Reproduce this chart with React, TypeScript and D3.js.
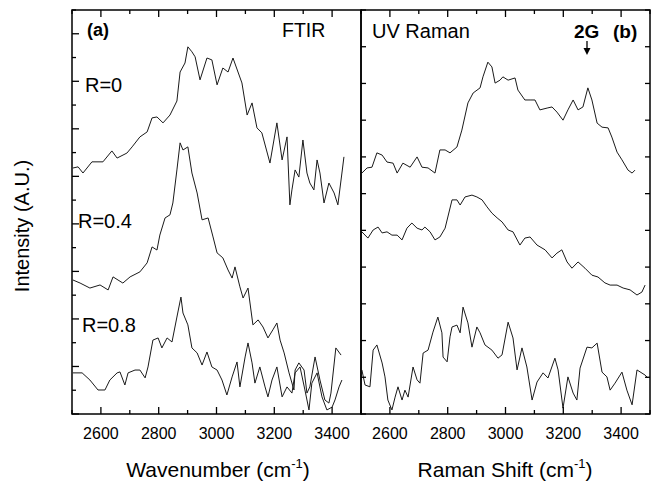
import React from "react";
import * as d3 from "d3";

// FTIR (panel a): [wavenumber, intensity]
const ftirR0: [number, number][] = [[2503,10.35],[2521,10.40],[2538,10.14],[2569,10.61],[2607,10.61],[2638,11.07],[2656,10.77],[2690,10.98],[2708,11.24],[2735,11.66],[2760,11.87],[2777,12.46],[2794,12.50],[2815,12.25],[2839,12.58],[2863,13.17],[2874,14.39],[2891,14.77],[2901,15.45],[2915,15.24],[2926,15.03],[2943,14.06],[2967,14.98],[2984,14.90],[3002,13.85],[3022,14.56],[3040,14.39],[3057,14.98],[3088,13.93],[3106,12.58],[3123,13.09],[3140,12.04],[3157,11.83],[3185,10.56],[3209,12.25],[3227,10.69],[3244,11.66],[3254,8.80],[3261,9.43],[3272,10.27],[3285,9.97],[3299,11.53],[3313,10.14],[3323,9.72],[3337,9.43],[3348,10.69],[3358,10.14],[3372,8.88],[3389,9.72],[3407,9.30],[3420,8.80],[3434,10.14],[3441,10.82]];
const ftirR04: [number, number][] = [[2503,5.64],[2528,5.51],[2562,5.30],[2597,5.43],[2625,5.22],[2642,5.77],[2676,5.51],[2701,5.77],[2735,5.98],[2760,6.36],[2777,7.03],[2794,6.90],[2804,7.53],[2822,8.25],[2839,8.38],[2849,8.88],[2863,10.27],[2874,11.41],[2884,11.11],[2901,11.24],[2915,10.14],[2933,9.30],[2950,8.17],[2971,8.25],[2988,7.45],[3002,6.78],[3022,6.57],[3040,6.06],[3054,5.72],[3064,6.19],[3081,5.35],[3092,4.88],[3109,5.30],[3126,3.75],[3144,3.96],[3161,3.66],[3178,3.20],[3195,3.54],[3209,3.83],[3220,3.11],[3234,2.57],[3251,1.73],[3268,1.01],[3272,1.85],[3285,2.15],[3303,1.85],[3313,0.88],[3323,1.14],[3341,2.40],[3358,1.43],[3375,0.59],[3389,0.46],[3396,0.88],[3413,2.78],[3431,2.48]];
const ftirR08: [number, number][] = [[2503,1.73],[2535,1.73],[2562,1.43],[2590,1.01],[2614,1.01],[2631,1.43],[2656,1.73],[2666,1.77],[2683,1.22],[2694,1.73],[2718,1.85],[2735,1.85],[2753,1.52],[2763,1.98],[2780,3.11],[2798,3.20],[2811,2.78],[2829,3.20],[2846,3.03],[2863,4.08],[2877,4.92],[2884,4.25],[2901,3.75],[2915,2.78],[2933,2.57],[2950,2.06],[2967,2.61],[2984,1.98],[3002,1.85],[3019,1.43],[3036,0.80],[3054,1.56],[3071,2.19],[3081,1.14],[3099,2.40],[3109,2.99],[3123,2.15],[3133,1.30],[3150,1.98],[3168,1.14],[3178,0.72],[3192,1.43],[3209,1.98],[3227,0.72],[3244,1.14],[3261,0.88],[3272,1.73],[3289,1.98],[3306,1.01],[3320,0.17],[3330,1.30],[3348,1.73],[3365,0.72],[3382,0.17],[3400,0.29],[3410,0.59],[3424,1.14],[3434,1.43]];

// UV Raman (panel b)
const ramanR0: [number, number][] = [[2503,6.56],[2521,6.70],[2538,6.72],[2555,7.11],[2573,7.05],[2590,6.86],[2611,6.83],[2625,6.56],[2645,6.83],[2670,6.72],[2694,7.00],[2711,6.72],[2732,6.70],[2756,6.56],[2773,7.19],[2791,7.19],[2808,7.11],[2832,7.27],[2849,7.73],[2870,8.47],[2888,8.74],[2912,8.88],[2922,9.18],[2939,9.58],[2953,9.45],[2964,9.01],[2981,9.09],[2991,9.18],[3009,9.09],[3033,9.15],[3043,8.82],[3067,8.55],[3085,8.55],[3102,8.55],[3119,8.28],[3144,8.33],[3161,8.36],[3178,8.22],[3199,8.00],[3216,8.28],[3234,8.55],[3251,8.28],[3268,8.36],[3285,8.88],[3299,8.55],[3317,7.92],[3334,7.81],[3355,7.79],[3368,7.54],[3386,7.13],[3403,6.92],[3424,6.64],[3438,6.56],[3448,6.64]];
const ramanR04: [number, number][] = [[2503,4.96],[2524,4.79],[2542,5.01],[2559,5.09],[2573,4.93],[2590,4.96],[2607,4.87],[2625,4.87],[2642,4.74],[2659,5.06],[2676,5.20],[2694,5.06],[2711,5.01],[2721,5.09],[2739,4.96],[2756,4.74],[2773,4.82],[2791,5.06],[2815,5.83],[2832,5.83],[2843,5.69],[2860,5.91],[2884,5.96],[2901,5.91],[2919,5.83],[2936,5.64],[2953,5.47],[2971,5.34],[2988,5.23],[3009,5.01],[3026,4.96],[3050,4.60],[3067,4.79],[3085,4.82],[3109,4.60],[3137,4.47],[3161,4.25],[3178,4.38],[3195,4.47],[3213,4.14],[3230,3.97],[3251,4.14],[3275,3.97],[3299,3.78],[3320,3.73],[3344,3.57],[3362,3.51],[3386,3.51],[3407,3.43],[3431,3.38],[3455,3.24],[3472,3.32],[3483,3.51]];
const ramanR08: [number, number][] = [[2503,1.20],[2514,0.79],[2531,0.74],[2542,1.74],[2555,1.88],[2573,1.39],[2583,1.01],[2593,0.38],[2607,0.11],[2618,0.46],[2628,0.74],[2642,0.38],[2652,0.65],[2663,0.46],[2680,1.28],[2694,0.93],[2704,0.84],[2715,1.66],[2732,1.74],[2749,2.23],[2766,2.64],[2780,2.21],[2784,1.55],[2798,1.42],[2808,2.10],[2815,2.37],[2832,2.42],[2843,2.21],[2853,2.91],[2870,2.48],[2884,1.82],[2901,2.37],[2912,2.21],[2929,1.88],[2953,1.74],[2974,1.52],[2988,1.61],[3009,2.50],[3026,2.07],[3040,1.20],[3057,1.80],[3074,1.28],[3092,0.38],[3109,0.87],[3130,1.12],[3147,0.98],[3171,1.52],[3182,1.20],[3199,0.16],[3216,1.01],[3234,0.57],[3247,0.38],[3258,1.25],[3282,1.82],[3299,1.80],[3317,1.93],[3334,1.14],[3351,1.01],[3362,0.65],[3379,0.84],[3403,1.14],[3420,0.65],[3438,0.25],[3455,1.20],[3483,1.06],[3493,0.98]];

const xTickLabels = [2600, 2800, 3000, 3200, 3400];

const W = 655, H = 483;
const top = 10, bottom = 414;
const aL = 72, mid = 361, bR = 650;
const FONT = "Arial, 'Liberation Sans', Helvetica, sans-serif";

function Panel({ x0, x1, yMax, series, leftTicks, rightTicks, majorEvery }: any) {
  const x = d3.scaleLinear().domain([2500, 3500]).range([x0, x1]);
  const y = d3.scaleLinear().domain([0, yMax]).range([bottom, top]);
  const line = d3.line<[number, number]>().x(d => x(d[0])).y(d => y(d[1]));
  const xt = d3.range(2500, 3501, 100);
  const yt = d3.range(0, yMax + 0.001, 1);
  return (
    <g>
      {series.map((s: [number, number][], i: number) => (
        <path key={i} d={line(s) || ""} fill="none" stroke="#1a1a1a" strokeWidth={1} />
      ))}
      {xt.map(t => {
        const len = t % 200 === 0 ? 7 : 4;
        return (
          <g key={t}>
            <line x1={x(t)} x2={x(t)} y1={bottom} y2={bottom - len} stroke="#000" strokeWidth={1.3} />
            <line x1={x(t)} x2={x(t)} y1={top} y2={top + len} stroke="#000" strokeWidth={1.3} />
          </g>
        );
      })}
      {leftTicks && yt.map(t => {
        const len = majorEvery && t % 2 === 0 ? 7 : 4;
        return <line key={"l" + t} x1={x0} x2={x0 + len} y1={y(t)} y2={y(t)} stroke="#000" strokeWidth={1.3} />;
      })}
      {rightTicks && yt.map(t => (
        <line key={"r" + t} x1={x1} x2={x1 - 5} y1={y(t)} y2={y(t)} stroke="#000" strokeWidth={1.3} />
      ))}
      {rightTicks && yt.map(t => (
        <line key={"rl" + t} x1={x0} x2={x0 + 5} y1={y(t)} y2={y(t)} stroke="#000" strokeWidth={1.3} />
      ))}
      <rect x={x0} y={top} width={x1 - x0} height={bottom - top} fill="none" stroke="#000" strokeWidth={1.5} />
      {xTickLabels.map(t => (
        <text key={t} x={x(t)} y={439} textAnchor="middle" fontSize={16} fontFamily={FONT} fill="#000">{t}</text>
      ))}
    </g>
  );
}

export default function App() {
  return (
    <svg width={W} height={H} style={{ position: "absolute", left: 0, top: 0, background: "#fff" }}>
      <rect x={0} y={0} width={W} height={H} fill="#fff" />
      <Panel x0={aL} x1={mid} yMax={17} series={[ftirR0, ftirR04, ftirR08]} leftTicks majorEvery />
      <Panel x0={mid} x1={bR} yMax={11} series={[ramanR0, ramanR04, ramanR08]} rightTicks />
      <g fontFamily={FONT} fill="#000">
        <text x={87} y={36} fontSize={18} fontWeight="bold">(a)</text>
        <text x={282} y={37} fontSize={19.5}>FTIR</text>
        <text x={85} y={92} fontSize={20}>R=0</text>
        <text x={78} y={228} fontSize={20}>R=0.4</text>
        <text x={82} y={332} fontSize={20}>R=0.8</text>
        <text x={372} y={38} fontSize={20}>UV Raman</text>
        <text x={574} y={38} fontSize={19} fontWeight="bold">2G</text>
        <text x={613} y={38} fontSize={19} fontWeight="bold">(b)</text>
        <text x={218} y={477} fontSize={21} textAnchor="middle">
          Wavenumber (cm<tspan dy={-9} fontSize={13}>-1</tspan><tspan dy={9}>)</tspan>
        </text>
        <text x={505} y={477} fontSize={21} textAnchor="middle">
          Raman Shift (cm<tspan dy={-9} fontSize={13}>-1</tspan><tspan dy={9}>)</tspan>
        </text>
        <text transform="translate(29,226) rotate(-90)" fontSize={20} textAnchor="middle">Intensity (A.U.)</text>
      </g>
      <line x1={587} x2={587} y1={41} y2={50} stroke="#000" strokeWidth={1.3} />
      <path d="M583.5,48 L590.5,48 L587,55 Z" fill="#000" />
    </svg>
  );
}
